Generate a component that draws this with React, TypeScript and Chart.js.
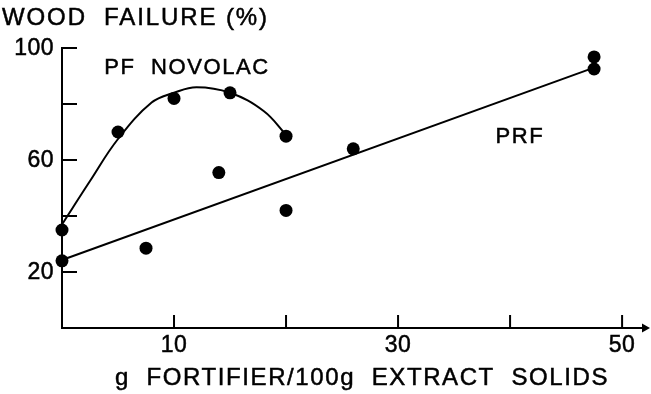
import React, { useEffect, useRef } from "react";
import { Chart, registerables } from "chart.js";

Chart.register(...registerables);

// PF novolac fortified adhesive: measured points and fitted curve
const novolacX = [0, 5, 10, 15, 20];
const novolacY = [35, 70, 82, 84, 68.5];
const novolacCurveX = [0, 2.5, 5, 8, 10, 12, 15, 18, 20];
const novolacCurveY = [37, 52.5, 67.5, 80.5, 84, 86, 84, 77.5, 69];

// PRF fortified adhesive: measured points and regression line
const prfX = [0, 7.5, 14, 20, 26, 47.5, 47.5];
const prfY = [24, 28.5, 55.5, 42, 64, 96.8, 92.5];
const prfLineX = [0, 47.5];
const prfLineY = [24.3, 93];

// Axis ticks and labels
const xTicks = [10, 20, 30, 40, 50];
const xTickLabels = ["10", "", "30", "", "50"];
const yTicks = [20, 40, 60, 80, 100];
const yTickLabels = ["20", "", "60", "", "100"];

const FONT = '"Liberation Sans", Arial, Helvetica, sans-serif';

const pts = (xs: number[], ys: number[]) => xs.map((v, i) => ({ x: v, y: ys[i] }));

// Filled text with a hairline outline so the lettering reads a little heavier
const heavyText = (ctx: CanvasRenderingContext2D, s: string, px: number, py: number) => {
  ctx.fillText(s, px, py);
  ctx.strokeText(s, px, py);
};

const axesPlugin = {
  id: "handAxes",
  beforeDatasetsDraw(chart: any) {
    const { ctx, scales } = chart;
    const x = scales.x;
    const y = scales.y;
    const x0 = x.getPixelForValue(0);
    const y0 = y.getPixelForValue(0);
    const yTop = y.getPixelForValue(100);
    const tipX = chart.width - 1;
    ctx.save();
    ctx.strokeStyle = "#000";
    ctx.fillStyle = "#000";
    ctx.lineWidth = 2;
    ctx.lineCap = "butt";
    ctx.beginPath();
    ctx.moveTo(x0, yTop - 1);
    ctx.lineTo(x0, y0 + 1);
    ctx.moveTo(x0 - 1, y0);
    ctx.lineTo(tipX - 6, y0);
    ctx.stroke();
    // arrow head
    ctx.beginPath();
    ctx.moveTo(tipX, y0);
    ctx.lineTo(tipX - 8, y0 - 4.5);
    ctx.lineTo(tipX - 8, y0 + 4.5);
    ctx.closePath();
    ctx.fill();
    // inward tick marks
    ctx.beginPath();
    yTicks.forEach((v) => {
      const py = y.getPixelForValue(v);
      ctx.moveTo(x0, py);
      ctx.lineTo(x0 + 15, py);
    });
    xTicks.forEach((v) => {
      const px = x.getPixelForValue(v);
      ctx.moveTo(px, y0);
      ctx.lineTo(px, y0 - 13);
    });
    ctx.stroke();
    ctx.restore();
  },
  afterDraw(chart: any) {
    const { ctx, scales } = chart;
    const x = scales.x;
    const y = scales.y;
    const x0 = x.getPixelForValue(0);
    const y0 = y.getPixelForValue(0);
    ctx.save();
    ctx.fillStyle = "#000";
    ctx.strokeStyle = "#000";
    ctx.lineWidth = 0.5;
    ctx.textBaseline = "middle";
    ctx.font = `23px ${FONT}`;
    (ctx as any).letterSpacing = "0.5px";
    ctx.textAlign = "right";
    yTicks.forEach((v, i) => {
      if (yTickLabels[i]) heavyText(ctx, yTickLabels[i], x0 - 8, y.getPixelForValue(v) + 1);
    });
    ctx.textAlign = "center";
    xTicks.forEach((v, i) => {
      if (xTickLabels[i]) heavyText(ctx, xTickLabels[i], x.getPixelForValue(v), y0 + 18);
    });

    (ctx as any).letterSpacing = "1.9px";
    ctx.font = `24px ${FONT}`;
    ctx.textAlign = "left";
    heavyText(ctx, "WOOD  FAILURE (%)", 2, 18);
    (ctx as any).letterSpacing = "1.6px";
    ctx.textAlign = "center";
    heavyText(ctx, "g  FORTIFIER/100g  EXTRACT  SOLIDS", 362, 378);

    ctx.font = `22px ${FONT}`;
    heavyText(ctx, "PF  NOVOLAC", 187, 68);
    heavyText(ctx, "PRF", 520, 137);
    ctx.restore();
  },
};

export default function App() {
  const ref = useRef<HTMLCanvasElement | null>(null);

  useEffect(() => {
    if (!ref.current) return;
    const dot = {
      type: "scatter" as const,
      showLine: false,
      pointRadius: 6.5,
      pointBackgroundColor: "#000",
      pointBorderWidth: 0,
      clip: false as any,
    };
    const line = {
      type: "line" as const,
      borderColor: "#000",
      borderWidth: 2,
      pointRadius: 0,
      fill: false,
      clip: false as any,
    };
    const chart = new Chart(ref.current, {
      type: "scatter",
      data: {
        datasets: [
          { ...line, label: "PF novolac fit", data: pts(novolacCurveX, novolacCurveY), tension: 0.4 },
          { ...line, label: "PRF fit", data: pts(prfLineX, prfLineY) },
          { ...dot, label: "PF novolac", data: pts(novolacX, novolacY) },
          { ...dot, label: "PRF", data: pts(prfX, prfY) },
        ] as any,
      },
      options: {
        responsive: false,
        animation: false,
        layout: { padding: { left: 62, right: 5, top: 48, bottom: 66 } },
        plugins: { legend: { display: false }, tooltip: { enabled: false } },
        scales: {
          x: { type: "linear", min: 0, max: 52, display: false },
          y: { type: "linear", min: 0, max: 100, display: false },
        },
      },
      plugins: [axesPlugin],
    });
    return () => chart.destroy();
  }, []);

  return (
    <div style={{ position: "fixed", left: 0, top: 0, width: 651, height: 394, background: "#fff" }}>
      <canvas ref={ref} width={651} height={394} />
    </div>
  );
}
